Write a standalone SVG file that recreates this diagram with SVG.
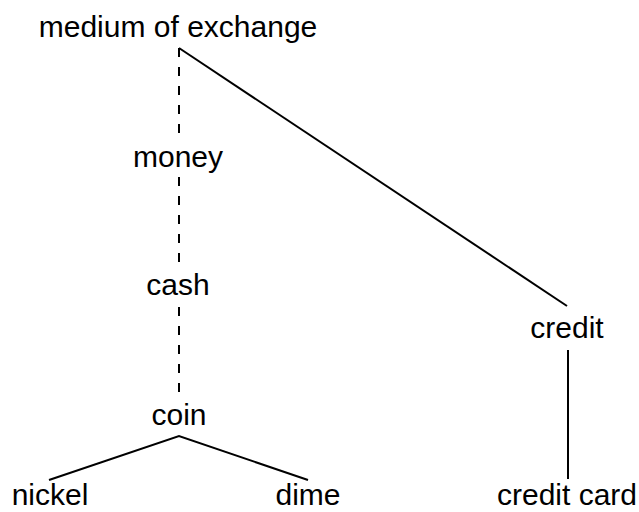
<svg xmlns="http://www.w3.org/2000/svg" width="639" height="512" viewBox="0 0 639 512">
<style>
.t{font-family:"Liberation Sans",Arial,sans-serif;font-size:30px;fill:#000;text-anchor:middle}
.l{stroke:#000;stroke-width:2;fill:none}
.d{stroke-dasharray:9,10}
</style>
<rect width="639" height="512" fill="#fff"/>
<g id="connectors">
<line class="l d" x1="179" y1="48" x2="179" y2="135"/>
<line class="l d" x1="179" y1="177" x2="179" y2="263"/>
<line class="l d" x1="179" y1="307" x2="179" y2="393"/>
<line class="l" x1="179" y1="48" x2="567" y2="306"/>
<line class="l" x1="568" y1="350" x2="568" y2="479"/>
<polyline class="l" points="49,480 179,436 308,480"/>
</g>
<g id="medium"><text class="t" x="178" y="37">medium of exchange</text></g>
<g id="money"><text class="t" x="178" y="167">money</text></g>
<g id="cash"><text class="t" x="178" y="295">cash</text></g>
<g id="coin"><text class="t" x="179" y="425">coin</text></g>
<g id="credit"><text class="t" x="567" y="338">credit</text></g>
<g id="nickel"><text class="t" x="50" y="505">nickel</text></g>
<g id="dime"><text class="t" x="308" y="505">dime</text></g>
<g id="creditcard"><text class="t" x="567" y="505">credit card</text></g>
</svg>
